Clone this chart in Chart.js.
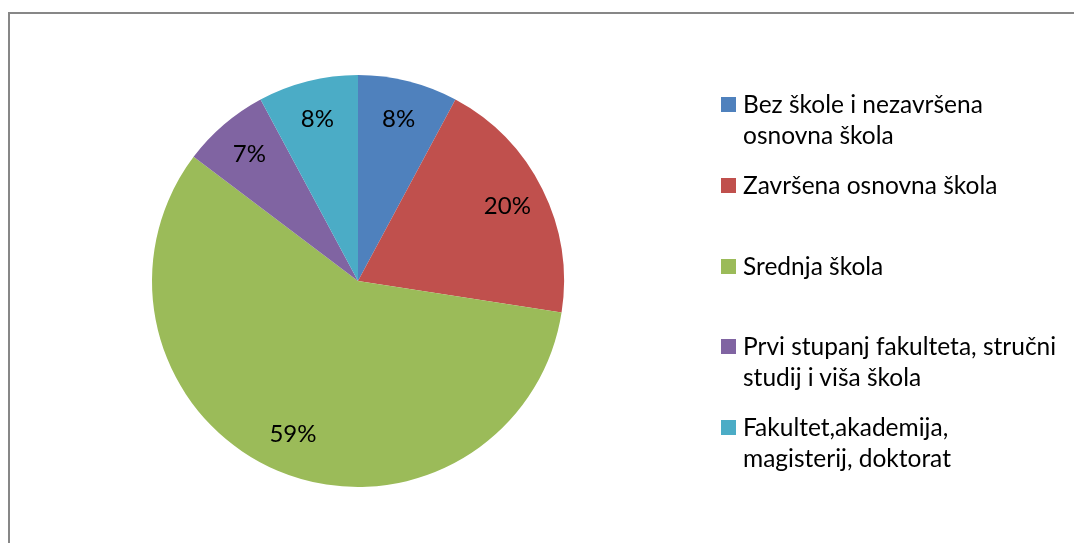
<!DOCTYPE html>
<html>
<head>
<meta charset="utf-8">
<script src="https://cdn.jsdelivr.net/npm/chart.js@4/dist/chart.umd.min.js"></script>
<style>
  html, body { margin: 0; padding: 0; background: #fff; }
  #wrap { position: relative; width: 1074px; height: 543px; overflow: hidden; }
  #frame { position: absolute; left: 8px; top: 12px; width: 1200px; height: 700px;
           border-left: 2px solid #878787; border-top: 2px solid #878787; }
  #c { position: absolute; left: 0; top: 0; }
  #legend { position: absolute; left: 721px; top: 88px; font-family: Lato, sans-serif;
            font-size: 24.5px; color: #000; }
  .item { position: relative; height: 80.75px; padding-left: 22px; line-height: 31px; }
  .sw { position: absolute; left: 0; top: 9px; width: 15px; height: 15px; }
</style>
</head>
<body>
<div id="wrap">
  <div id="frame"></div>
  <canvas id="c" width="1074" height="543"></canvas>
  <div id="legend"></div>
</div>
<script>
const categories = [
  ["Bez škole i nezavršena", "osnovna škola"],
  ["Završena osnovna škola"],
  ["Srednja škola"],
  ["Prvi stupanj fakulteta, stručni", "studij i viša škola"],
  ["Fakultet,akademija,", "magisterij, doktorat"]
];
const values = [8, 20, 59, 7, 8];
const colors = ["#4F81BD", "#C0504D", "#9BBB59", "#8064A2", "#4BACC6"];

const pctLabels = {
  id: 'pctLabels',
  afterDatasetsDraw(chart) {
    const ctx = chart.ctx;
    const meta = chart.getDatasetMeta(0);
    ctx.save();
    ctx.font = '24px Lato, sans-serif';
    ctx.fillStyle = '#000';
    ctx.textAlign = 'center';
    ctx.textBaseline = 'middle';
    meta.data.forEach((arc, i) => {
      const p = arc.getProps(['x', 'y', 'startAngle', 'endAngle', 'outerRadius'], true);
      const mid = (p.startAngle + p.endAngle) / 2;
      const r = p.outerRadius * 0.81;
      ctx.fillText(values[i] + '%', p.x + Math.cos(mid) * r, p.y + Math.sin(mid) * r);
    });
    ctx.restore();
  }
};

new Chart(document.getElementById('c'), {
  type: 'pie',
  data: {
    labels: categories.map(c => c.join(' ')),
    datasets: [{ data: values, backgroundColor: colors, borderWidth: 0 }]
  },
  options: {
    responsive: false,
    animation: false,
    layout: { padding: { left: 152, right: 510, top: 75, bottom: 56 } },
    plugins: { legend: { display: false }, tooltip: { enabled: false } }
  },
  plugins: [pctLabels]
});

const leg = document.getElementById('legend');
categories.forEach((lines, i) => {
  const d = document.createElement('div');
  d.className = 'item';
  const sw = document.createElement('span');
  sw.className = 'sw';
  sw.style.background = colors[i];
  d.appendChild(sw);
  lines.forEach(t => {
    const l = document.createElement('div');
    l.textContent = t;
    d.appendChild(l);
  });
  leg.appendChild(d);
});
</script>
</body>
</html>
